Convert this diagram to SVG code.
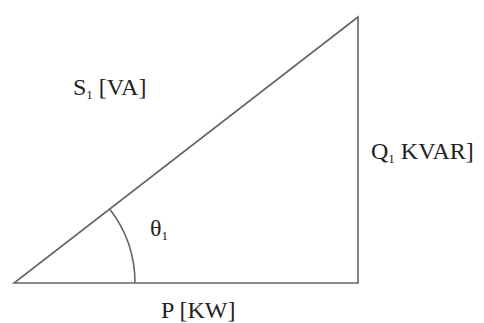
<svg xmlns="http://www.w3.org/2000/svg" width="484" height="323" viewBox="0 0 484 323">
<style>
.ln{fill:none;stroke:#666;stroke-width:1.6}
.t{font-family:"Liberation Serif","Times New Roman",serif;font-size:24px;fill:#222}
.s{font-size:13px}
</style>
<rect width="484" height="323" fill="#fff"/>
<g id="connectors">
<path class="ln" d="M14 283 L358 283 L358 17 Z"/>
<path class="ln" d="M109.7 209 A121 121 0 0 1 135 283"/>
</g>
<g id="label-s"><text class="t" x="73" y="95">S<tspan class="s" dy="4">1</tspan><tspan dy="-4"> [VA]</tspan></text></g>
<g id="label-q"><text class="t" x="371" y="159">Q<tspan class="s" dy="4">1</tspan><tspan dy="-4"> KVAR]</tspan></text></g>
<g id="label-theta"><text class="t" x="150" y="236">θ<tspan class="s" dy="4">1</tspan></text></g>
<g id="label-p"><text class="t" x="161" y="318">P [KW]</text></g>
</svg>
